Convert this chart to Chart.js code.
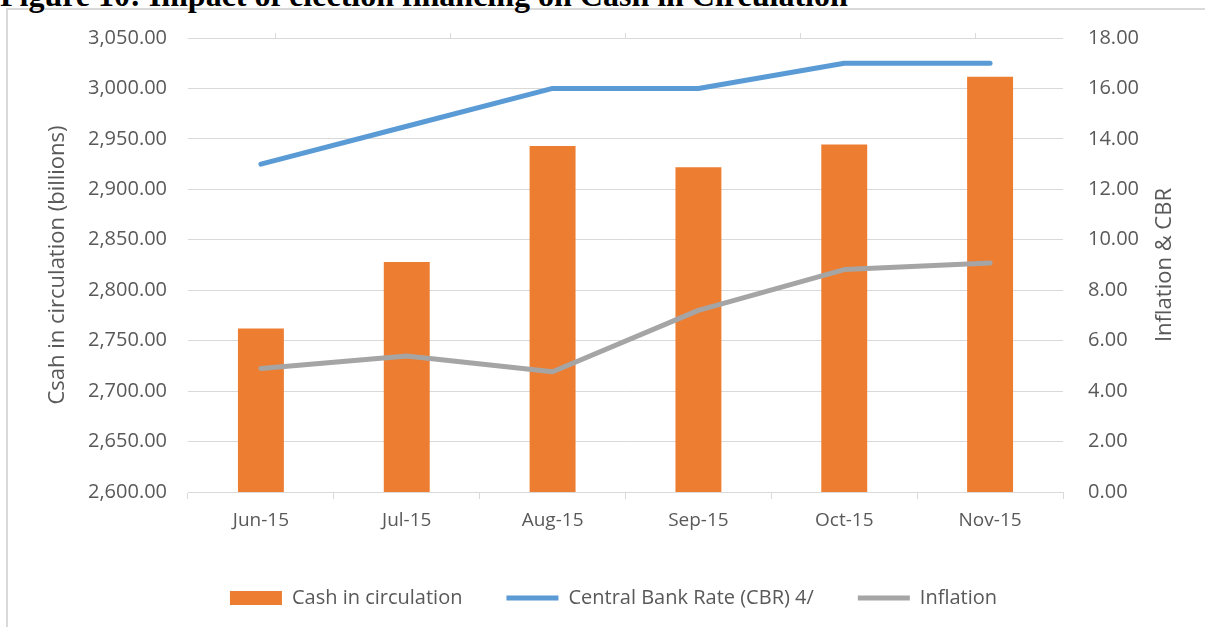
<!DOCTYPE html>
<html>
<head>
<meta charset="utf-8">
<script src="https://cdn.jsdelivr.net/npm/chart.js@4.4.0/dist/chart.umd.min.js"></script>
<style>
  html, body { margin: 0; padding: 0; background: #fff; overflow: hidden; }
  #wrap { position: relative; width: 1205px; height: 627px; }
  #frame { position: absolute; left: 6px; top: 8px; width: 1220px; height: 640px; border: 2px solid #d9d9d9; }
  #title { position: absolute; left: 0; top: -21px; font: bold 32px/32px "Liberation Serif", "Times New Roman", serif; color: #000; white-space: nowrap; }
  canvas { position: absolute; left: 0; top: 0; }
</style>
</head>
<body>
<div id="wrap">
  <div id="frame"></div>
  <div id="title">Figure 10: Impact of election financing on Cash in Circulation</div>
  <canvas id="chart" width="1205" height="627"></canvas>
</div>
<script>
// data
const months = ["Jun-15", "Jul-15", "Aug-15", "Sep-15", "Oct-15", "Nov-15"];
const cashInCirculation = [2762, 2828, 2943, 2922, 2944.5, 3011.5];
const centralBankRate = [13, 14.5, 16, 16, 17, 17];
const inflation = [4.9, 5.39, 4.77, 7.2, 8.82, 9.08];

const cashTicks = [2600, 2650, 2700, 2750, 2800, 2850, 2900, 2950, 3000, 3050];
const rateTicks = [0, 2, 4, 6, 8, 10, 12, 14, 16, 18];

const fmt = v => Number(v).toLocaleString("en-US", { minimumFractionDigits: 2, maximumFractionDigits: 2 });
const gridColor = "#d9d9d9";
const textColor = "#595959";
const font = "'Open Sans', sans-serif";

// right axis title reads bottom-to-top, like the left one
const rightTitle = {
    id: "rightTitle",
    afterDraw(chart) {
        const c = chart.ctx;
        const area = chart.chartArea;
        c.save();
        c.translate(1165, (area.top + area.bottom) / 2);
        c.rotate(-Math.PI / 2);
        c.fillStyle = textColor;
        c.font = "22px " + font;
        c.textAlign = "center";
        c.textBaseline = "middle";
        c.fillText("Inflation & CBR", 0, 0);
        c.restore();
    }
};

const ctx = document.getElementById("chart").getContext("2d");
new Chart(ctx, {
    data: {
        labels: months,
        datasets: [
            {
                type: "bar",
                label: "Cash in circulation",
                data: cashInCirculation,
                backgroundColor: "#ED7D31",
                borderWidth: 0,
                yAxisID: "y",
                barPercentage: 0.315,
                categoryPercentage: 1,
                pointStyle: "rect",
                order: 2
            },
            {
                type: "line",
                label: "Central Bank Rate (CBR) 4/",
                data: centralBankRate,
                borderColor: "#5B9BD5",
                backgroundColor: "#5B9BD5",
                borderWidth: 5,
                borderCapStyle: "round",
                borderJoinStyle: "round",
                pointRadius: 0,
                pointStyle: "line",
                yAxisID: "y1",
                order: 1
            },
            {
                type: "line",
                label: "Inflation",
                data: inflation,
                borderColor: "#A5A5A5",
                backgroundColor: "#A5A5A5",
                borderWidth: 5,
                borderCapStyle: "round",
                borderJoinStyle: "round",
                pointRadius: 0,
                pointStyle: "line",
                yAxisID: "y1",
                order: 1
            }
        ]
    },
    options: {
        responsive: false,
        animation: false,
        layout: { padding: { left: 22, right: 0, top: 33, bottom: 9 } },
        plugins: {
            tooltip: { enabled: false },
            legend: {
                position: "bottom",
                labels: {
                    usePointStyle: true,
                    pointStyleWidth: 52,
                    boxHeight: 14,
                    padding: 44,
                    color: textColor,
                    font: { family: font, size: 20 },
                    sort: (a, b) => a.datasetIndex - b.datasetIndex
                }
            }
        },
        scales: {
            x: {
                position: "bottom",
                grid: { offset: true, drawOnChartArea: false, tickLength: 7, color: gridColor },
                border: { color: gridColor },
                ticks: { color: textColor, font: { family: font, size: 19 }, padding: 10 },
                afterFit: s => { s.height = 52; }
            },
            x2: {
                position: "top",
                type: "category",
                labels: months,
                grid: { offset: true, drawOnChartArea: false, tickLength: 5, color: gridColor },
                border: { display: false },
                ticks: { display: false },
                afterFit: s => { s.height = 5; }
            },
            y: {
                position: "left",
                min: 2600,
                max: 3050,
                afterBuildTicks: axis => { axis.ticks = cashTicks.map(v => ({ value: v })); },
                grid: { color: gridColor, drawTicks: false },
                border: { display: false },
                ticks: { color: textColor, font: { family: font, size: 20 }, padding: 21, callback: fmt },
                title: { display: true, text: "Csah in circulation (billions)", color: textColor, font: { family: font, size: 22 }, padding: { top: 23, bottom: 0 } },
                afterFit: s => { s.width = 166; }
            },
            y1: {
                position: "right",
                min: 0,
                max: 18,
                afterBuildTicks: axis => { axis.ticks = rateTicks.map(v => ({ value: v })); },
                grid: { drawOnChartArea: false, drawTicks: false },
                border: { display: false },
                ticks: { color: textColor, font: { family: font, size: 20 }, padding: 25, callback: fmt },
                afterFit: s => { s.width = 142; }
            }
        }
    },
    plugins: [rightTitle]
});
</script>
</body>
</html>
